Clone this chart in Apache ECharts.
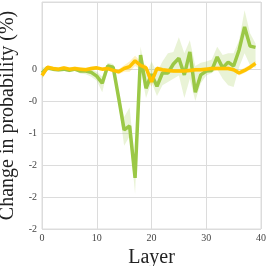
<!DOCTYPE html>
<html><head><meta charset="utf-8">
<script src="https://cdn.jsdelivr.net/npm/echarts@6/dist/echarts.min.js"></script>
<style>html,body{margin:0;padding:0;background:#fff}#c{width:266px;height:266px}</style>
</head><body><div id="c"></div>
<script>
const layers = Array.from({length: 40}, (_, i) => i);
const greenMean = [-0.06,0.02,0,-0.01,0,-0.02,0,-0.03,-0.03,-0.05,-0.11,-0.22,0.05,0.03,-0.45,-0.95,-0.89,-1.70,0.22,-0.30,-0.08,-0.27,-0.06,-0.06,0.08,0.17,-0.09,0.27,-0.36,-0.09,-0.03,-0.02,0.19,0.02,0.11,0.05,0.30,0.66,0.36,0.34];
const greenLow = [-0.15,-0.02,-0.03,-0.04,-0.03,-0.05,-0.03,-0.07,-0.08,-0.12,-0.18,-0.36,-0.02,-0.02,-0.55,-1.20,-1.05,-1.95,0.00,-0.45,-0.20,-0.42,-0.25,-0.20,-0.15,-0.10,-0.45,-0.15,-0.50,-0.22,-0.10,-0.06,0.00,-0.15,-0.25,-0.28,0.03,0.25,0.06,0.02];
const greenHigh = [0.02,0.05,0.03,0.02,0.03,0.01,0.03,0.01,0.02,0.00,-0.04,-0.12,0.10,0.08,-0.35,-0.75,-0.60,-1.45,0.35,-0.10,0.12,-0.05,0.12,0.25,0.27,0.50,0.25,0.45,0.05,0.10,0.12,0.15,0.35,0.22,0.25,0.25,0.45,0.92,0.56,0.40];
const yellowMean = [-0.10,0.03,0.01,0,0.02,0,0.01,0,-0.01,0.01,0.02,0,0.01,-0.02,-0.04,0.01,0.04,0.13,0.06,0.02,-0.20,0.01,-0.01,-0.02,-0.03,-0.03,-0.03,-0.02,-0.01,-0.01,0,0.01,0.01,0.01,0.01,-0.01,-0.06,-0.02,0.03,0.09];
const yellowLow = [-0.14,0.0,-0.02,-0.03,-0.01,-0.03,-0.02,-0.03,-0.04,-0.02,-0.01,-0.03,-0.02,-0.05,-0.08,-0.04,-0.04,0.05,0.0,-0.03,-0.28,-0.03,-0.04,-0.05,-0.06,-0.06,-0.06,-0.05,-0.04,-0.04,-0.03,-0.02,-0.02,-0.02,-0.02,-0.04,-0.10,-0.06,-0.01,0.05];
const yellowHigh = [-0.06,0.06,0.04,0.03,0.05,0.03,0.04,0.03,0.02,0.04,0.05,0.03,0.04,0.01,0.0,0.06,0.12,0.21,0.12,0.07,-0.12,0.05,0.02,0.01,0.0,0.0,0.0,0.01,0.02,0.02,0.03,0.04,0.04,0.04,0.04,0.02,-0.02,0.02,0.07,0.13];
const yTickValues = [0,-0.5,-1,-1.5,-2,-2.5];
const yTickLabels = ['0','-0','-1','-2','-2','-2'];
const xTickValues = [0,10,20,30,40];

const GREEN = 'rgb(155,200,70)';
const YELLOW = 'rgb(255,195,0)';
const pairs = (arr) => layers.map((x, i) => [x, arr[i]]);
const serif = '"Liberation Serif","DejaVu Serif",serif';

function bandSeries(lo, hi, color) {
  return {
    type: 'custom', silent: true, data: [0],
    renderItem: function (params, api) {
      const pts = [];
      for (let i = 0; i < layers.length; i++) pts.push(api.coord([layers[i], hi[i]]));
      for (let i = layers.length - 1; i >= 0; i--) pts.push(api.coord([layers[i], lo[i]]));
      return {type: 'polygon', shape: {points: pts}, style: {fill: color}};
    }
  };
}

const chart = echarts.init(document.getElementById('c'), null, {renderer: 'canvas'});
chart.setOption({
  animation: false,
  grid: {left: 42, right: 5, top: 2, bottom: 37, show: true, borderColor: '#dcdcdc', borderWidth: 1, containLabel: false, outerBoundsMode: 'none'},
  xAxis: {
    type: 'value', min: 0, max: 40, interval: 10,
    name: 'Layer', nameLocation: 'middle', nameGap: 18,
    nameTextStyle: {fontFamily: serif, fontSize: 20, color: '#222'},
    axisLine: {show: false}, axisTick: {show: false},
    axisLabel: {fontFamily: serif, fontSize: 10, color: '#444', margin: 4,
      formatter: v => xTickValues.includes(v) ? String(v) : ''},
    splitLine: {show: true, lineStyle: {color: '#dcdcdc', width: 1}}
  },
  yAxis: {
    type: 'value', min: -2.5, max: 1.05, interval: 0.5,
    name: 'Change in probability (%)', nameLocation: 'middle', nameGap: 16,
    nameTextStyle: {fontFamily: serif, fontSize: 20, color: '#222'},
    axisLine: {show: false}, axisTick: {show: false},
    axisLabel: {fontFamily: serif, fontSize: 10, color: '#444', margin: 5,
      formatter: v => { const k = yTickValues.findIndex(t => Math.abs(t - v) < 1e-6); return k >= 0 ? yTickLabels[k] : ''; }},
    splitLine: {show: true, lineStyle: {width: 1,
      color: ['#dcdcdc','#dcdcdc','#dcdcdc','#dcdcdc','#dcdcdc','#dcdcdc','rgba(0,0,0,0)','rgba(0,0,0,0)','#dcdcdc']}}
  },
  series: [
    bandSeries(greenLow, greenHigh, 'rgba(155,200,70,0.22)'),
    bandSeries(yellowLow, yellowHigh, 'rgba(255,200,0,0.25)'),
    {type: 'line', data: pairs(greenMean), symbol: 'none', lineStyle: {color: GREEN, width: 3.5}},
    {type: 'line', data: pairs(yellowMean), symbol: 'none', lineStyle: {color: YELLOW, width: 3.5}}
  ]
});
</script></body></html>
